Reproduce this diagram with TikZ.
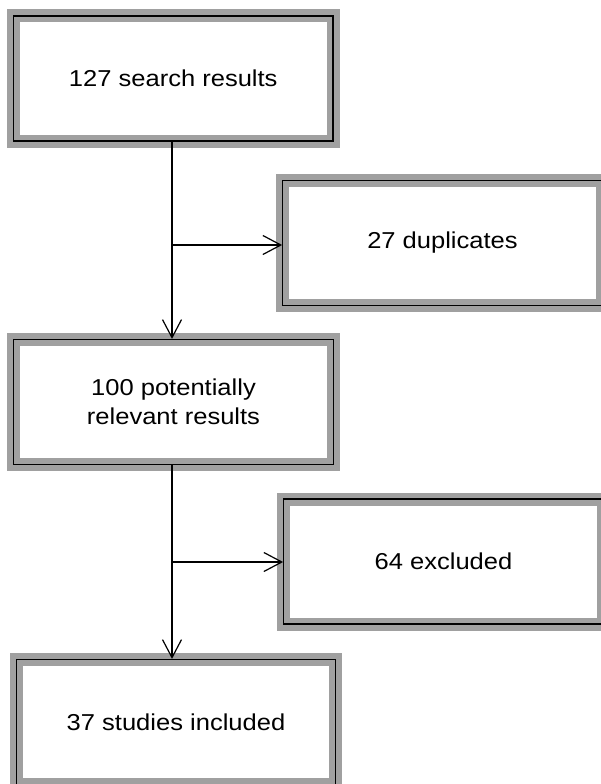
\documentclass[tikz,border=0pt]{standalone}
\usepackage{fontspec}
\setmainfont{Liberation Sans}[FakeStretch=1.11]
\usetikzlibrary{arrows.meta}
\definecolor{boxgray}{HTML}{A0A0A0}
\tikzset{
  flowbox/.style={draw=black, line width=1.2pt,
    preaction={draw=boxgray, line width=13pt},
    minimum width=319.5pt, minimum height=125pt,
    inner sep=0pt, align=center,
    font=\fontsize{23}{29}\selectfont},
  flowarrow/.style={draw=black, line width=1.2pt,
    -{Straight Barb[length=18pt,width=19pt,line width=1.2pt]}}
}
\begin{document}
\begin{tikzpicture}[x=1pt,y=-1pt]
\useasboundingbox (0,0) rectangle (601,784);
\clip (0,0) rectangle (601,784);
\node[flowbox] (b1) at (173.25,78.5) {127 search results};
\node[flowbox] (b2) at (442.5,243) {27 duplicates};
\node[flowbox] (b3) at (173.5,402) {100 potentially\\relevant results};
\node[flowbox] (b4) at (443.5,561.5) {64 excluded};
\node[flowbox] (b5) at (176,722) {37 studies included};
\coordinate (c1) at (172,245);
\coordinate (c2) at (172,562);
\draw[flowarrow] (b1.south -| c1) -- (b3.north -| c1);
\draw[flowarrow] (c1) -- (c1 -| b2.west);
\draw[flowarrow] (b3.south -| c2) -- (b5.north -| c2);
\draw[flowarrow] (c2) -- (c2 -| b4.west);
\end{tikzpicture}
\end{document}
